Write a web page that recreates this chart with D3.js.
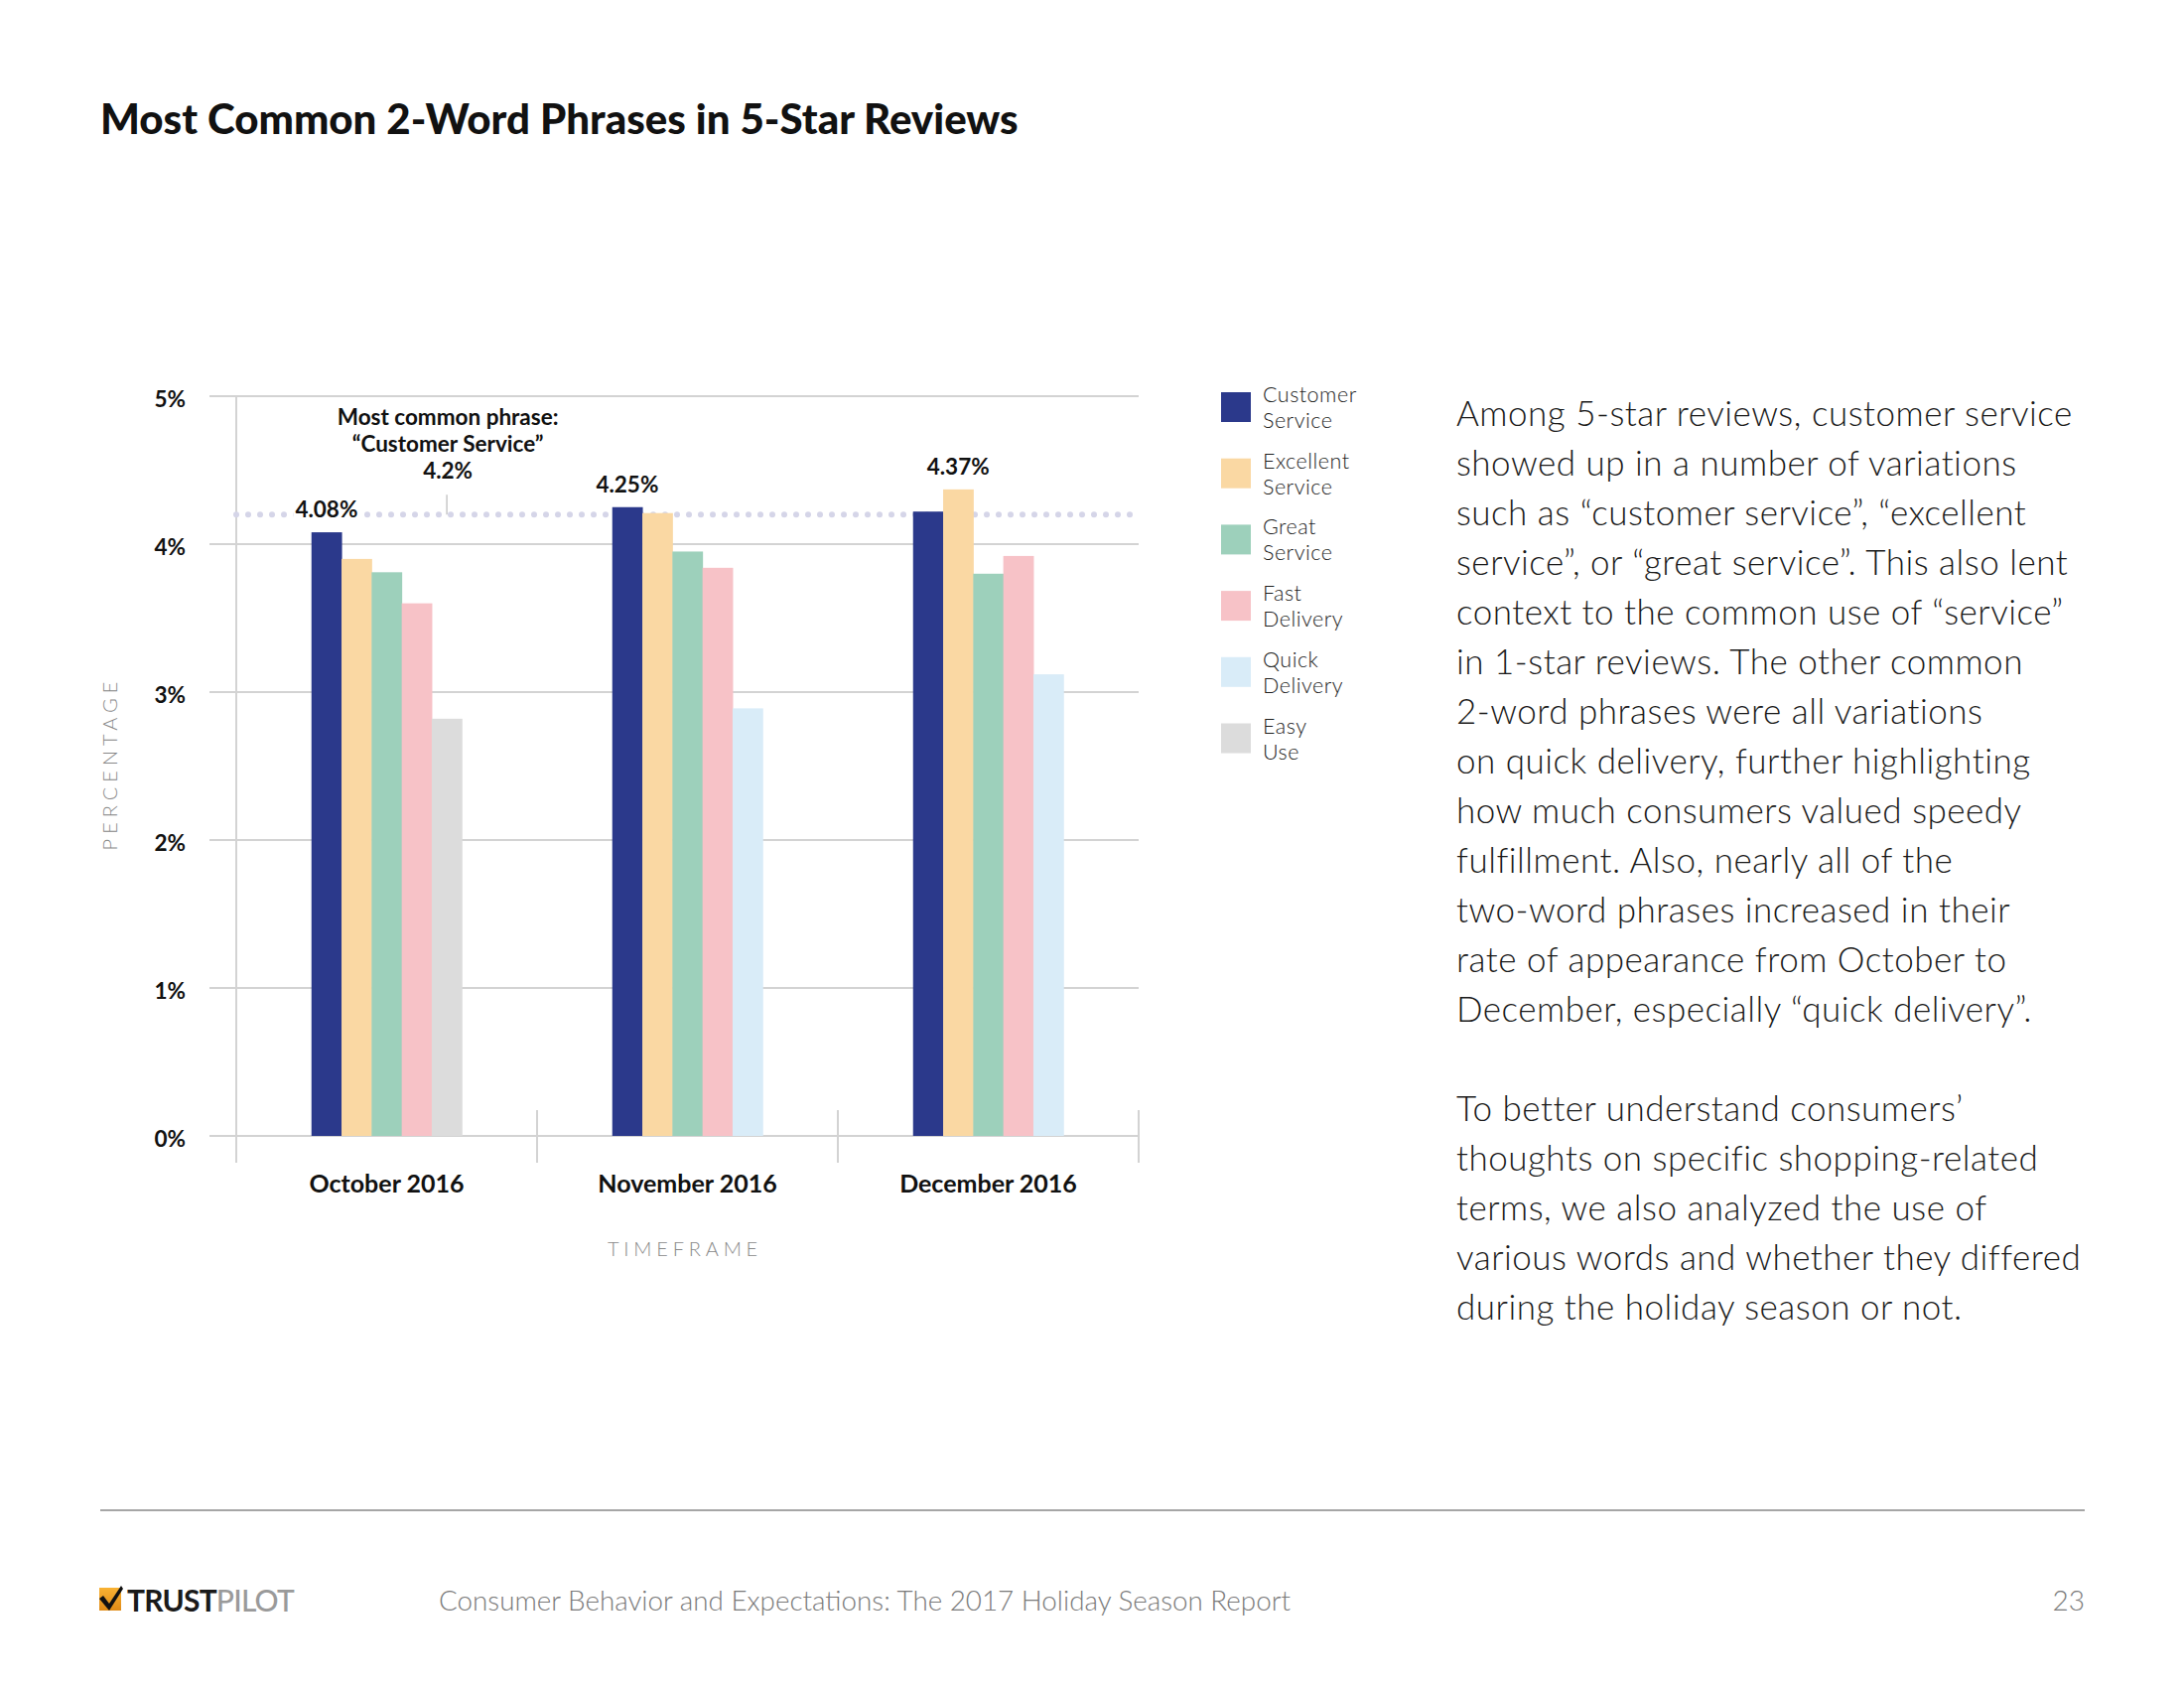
<!DOCTYPE html>
<html>
<head>
<meta charset="utf-8">
<script src="https://cdn.jsdelivr.net/npm/d3@7"></script>
<style>
  html, body { margin: 0; padding: 0; background: #fff; }
  svg { display: block; font-family: Lato, "Open Sans", sans-serif; }
</style>
</head>
<body>
<svg id="chart" width="2200" height="1700"></svg>
<script>
// ---------- DATA ----------
const categories = ["October 2016", "November 2016", "December 2016"];
const seriesNames = ["Customer Service", "Excellent Service", "Great Service", "Fast Delivery", "Quick Delivery", "Easy Use"];
const legendLines = [["Customer", "Service"], ["Excellent", "Service"], ["Great", "Service"], ["Fast", "Delivery"], ["Quick", "Delivery"], ["Easy", "Use"]];
const customerService  = [4.08, 4.25, 4.22];
const excellentService = [3.90, 4.21, 4.37];
const greatService     = [3.81, 3.95, 3.80];
const fastDelivery     = [3.60, 3.84, 3.92];
const quickDelivery    = [null, 2.89, 3.12];
const easyUse          = [2.82, null, null];
const seriesColors = ["#2b398b", "#fad8a3", "#9dd0bb", "#f7c2c7", "#d9ecf8", "#dcdcdc"];
const yTicks = [0, 1, 2, 3, 4, 5];
const yTickLabels = ["0%", "1%", "2%", "3%", "4%", "5%"];
const referenceValue = 4.2;
const valueLabels = [
  { category: "October 2016", series: "Customer Service", text: "4.08%" },
  { category: "November 2016", series: "Customer Service", text: "4.25%" },
  { category: "December 2016", series: "Excellent Service", text: "4.37%" }
];
const annotationLines = ["Most common phrase:", "\u201CCustomer Service\u201D", "4.2%"];
const paragraphLines = [
  "Among 5-star reviews, customer service",
  "showed up in a number of variations",
  "such as \u201Ccustomer service\u201D, \u201Cexcellent",
  "service\u201D, or \u201Cgreat service\u201D. This also lent",
  "context to the common use of \u201Cservice\u201D",
  "in 1-star reviews. The other common",
  "2-word phrases were all variations",
  "on quick delivery, further highlighting",
  "how much consumers valued speedy",
  "fulfillment. Also, nearly all of the",
  "two-word phrases increased in their",
  "rate of appearance from October to",
  "December, especially \u201Cquick delivery\u201D.",
  "",
  "To better understand consumers\u2019",
  "thoughts on specific shopping-related",
  "terms, we also analyzed the use of",
  "various words and whether they differed",
  "during the holiday season or not."
];

const seriesValues = [customerService, excellentService, greatService, fastDelivery, quickDelivery, easyUse];

// ---------- LAYOUT ----------
const svg = d3.select("#chart");
const plot = { left: 238, right: 1147, top: 399, bottom: 1144 };

svg.append("text")
  .attr("x", 101).attr("y", 135)
  .attr("font-size", 42).attr("font-weight", 900).attr("fill", "#111")
  .text("Most Common 2-Word Phrases in 5-Star Reviews");

const y = d3.scaleLinear().domain([0, 5]).range([plot.bottom, plot.top]);
const x0 = d3.scaleBand().domain(categories).range([plot.left, plot.right]).padding(0);
const bw = x0.bandwidth();

// gridlines
const gridColor = "#d3d3d3";
svg.append("g").selectAll("line").data(yTicks).join("line")
  .attr("x1", 211).attr("x2", plot.right)
  .attr("y1", d => y(d)).attr("y2", d => y(d))
  .attr("stroke", gridColor).attr("stroke-width", 2);

// y axis line and category separators
svg.append("line")
  .attr("x1", plot.left).attr("x2", plot.left)
  .attr("y1", plot.top).attr("y2", plot.bottom + 27)
  .attr("stroke", gridColor).attr("stroke-width", 2);
svg.append("g").selectAll("line").data(categories).join("line")
  .attr("x1", d => x0(d) + bw).attr("x2", d => x0(d) + bw)
  .attr("y1", plot.bottom - 26).attr("y2", plot.bottom + 27)
  .attr("stroke", gridColor).attr("stroke-width", 2);

// y tick labels
svg.append("g").selectAll("text").data(yTicks).join("text")
  .attr("x", 187).attr("y", d => y(d) + 11)
  .attr("text-anchor", "end").attr("font-size", 22.5).attr("font-weight", 700).attr("fill", "#111")
  .text((d, i) => yTickLabels[i]);

// dotted reference line
const dotStep = 12;
const dots = d3.range(plot.left, plot.right + 1, dotStep);
svg.append("g").selectAll("circle").data(dots).join("circle")
  .attr("cx", d => d).attr("cy", y(referenceValue)).attr("r", 3)
  .attr("fill", "#d5d5e8");

// bars
const barsG = svg.append("g");
categories.forEach((cat, ci) => {
  const present = seriesNames.map((s, si) => ({ s, si, v: seriesValues[si][ci] })).filter(d => d.v != null);
  const x1 = d3.scaleBand().domain(d3.range(present.length)).range([bw * 0.25, bw * 0.75]).padding(0);
  barsG.selectAll(null).data(present).join("rect")
    .attr("x", (d, i) => x0(cat) + x1(i))
    .attr("width", x1.bandwidth() + 0.5)
    .attr("y", d => y(d.v))
    .attr("height", d => y(0) - y(d.v))
    .attr("fill", d => seriesColors[d.si]);
});

// value labels with white backing
const labG = svg.append("g");
valueLabels.forEach(l => {
  const ci = categories.indexOf(l.category);
  const present = seriesNames.map((s, si) => ({ s, si, v: seriesValues[si][ci] })).filter(d => d.v != null);
  const x1 = d3.scaleBand().domain(d3.range(present.length)).range([bw * 0.25, bw * 0.75]).padding(0);
  const idx = present.findIndex(d => d.s === l.series);
  const cx = x0(l.category) + x1(idx) + x1.bandwidth() / 2;
  const cy = y(present[idx].v) - 15;
  const g = labG.append("g");
  const rect = g.append("rect").attr("fill", "#fff");
  const t = g.append("text").attr("x", cx).attr("y", cy)
    .attr("text-anchor", "middle").attr("font-size", 22.5).attr("font-weight", 700).attr("fill", "#111")
    .text(l.text);
  const bb = t.node().getBBox();
  rect.attr("x", bb.x - 2).attr("y", bb.y + 2).attr("width", bb.width + 4).attr("height", bb.height - 4);
});

// annotation
const annX = x0("October 2016") + bw * 0.70;
svg.append("g").selectAll("text").data(annotationLines).join("text")
  .attr("x", annX + 1).attr("y", (d, i) => 428 + i * 27)
  .attr("text-anchor", "middle").attr("font-size", 22.5).attr("font-weight", 700).attr("fill", "#111")
  .text(d => d);
svg.append("line")
  .attr("x1", annX).attr("x2", annX)
  .attr("y1", y(referenceValue) - 20).attr("y2", y(referenceValue))
  .attr("stroke", "#c8c8c8").attr("stroke-width", 1.5);

// category labels
svg.append("g").selectAll("text").data(categories).join("text")
  .attr("x", d => x0(d) + bw / 2).attr("y", 1201)
  .attr("text-anchor", "middle").attr("font-size", 25).attr("font-weight", 700).attr("fill", "#111")
  .text(d => d);

// axis titles
svg.append("text")
  .attr("x", 690).attr("y", 1265)
  .attr("text-anchor", "middle").attr("font-size", 20).attr("font-weight", 300)
  .attr("letter-spacing", 4.8).attr("fill", "#888")
  .text("TIMEFRAME");
svg.append("text")
  .attr("transform", "translate(118,769) rotate(-90)")
  .attr("text-anchor", "middle").attr("font-size", 20).attr("font-weight", 300)
  .attr("letter-spacing", 5).attr("fill", "#888")
  .text("PERCENTAGE");

// legend
const legG = svg.append("g");
seriesNames.forEach((s, i) => {
  const top = 395 + i * 66.7;
  legG.append("rect").attr("x", 1230).attr("y", top).attr("width", 30).attr("height", 30)
    .attr("fill", seriesColors[i]);
  legendLines[i].forEach((ln, j) => {
    legG.append("text").attr("x", 1272).attr("y", top + 10 + j * 26)
      .attr("font-size", 21.5).attr("font-weight", 300).attr("letter-spacing", 0.5).attr("fill", "#222")
      .text(ln);
  });
});

// paragraph
svg.append("g").selectAll("text").data(paragraphLines).join("text")
  .attr("x", 1467).attr("y", (d, i) => 429 + i * 50)
  .attr("font-size", 35).attr("font-weight", 300).attr("letter-spacing", 0.5).attr("fill", "#1a1a1a")
  .text(d => d);

// footer
svg.append("line").attr("x1", 101).attr("x2", 2100).attr("y1", 1521).attr("y2", 1521)
  .attr("stroke", "#a6a6a6").attr("stroke-width", 2);

const defs = svg.append("defs");
const grad = defs.append("linearGradient").attr("id", "logoGrad").attr("x1", 0).attr("y1", 0).attr("x2", 0).attr("y2", 1);
grad.append("stop").attr("offset", "0%").attr("stop-color", "#f9b233");
grad.append("stop").attr("offset", "100%").attr("stop-color", "#e08b17");
svg.append("rect").attr("x", 100).attr("y", 1599).attr("width", 22).attr("height", 23).attr("fill", "url(#logoGrad)");
svg.append("path")
  .attr("d", "M100,1610 L104,1607 L110,1615 L122,1597 L124,1600 L110,1622 Z")
  .attr("fill", "#111");
const logo = svg.append("text").attr("x", 128).attr("y", 1622.5)
  .attr("font-size", 30).attr("font-weight", 700).attr("letter-spacing", -0.8);
logo.append("tspan").attr("fill", "#1a1a1a").text("TRUST");
logo.append("tspan").attr("fill", "#9a9a9a").attr("font-weight", 500).text("PILOT");

svg.append("text").attr("x", 442).attr("y", 1622)
  .attr("font-size", 27.8).attr("font-weight", 300).attr("fill", "#7a7a7a")
  .text("Consumer Behavior and Expectations: The 2017 Holiday Season Report");
svg.append("text").attr("x", 2100).attr("y", 1622).attr("text-anchor", "end")
  .attr("font-size", 28).attr("font-weight", 300).attr("fill", "#7a7a7a")
  .text("23");
</script>
</body>
</html>
